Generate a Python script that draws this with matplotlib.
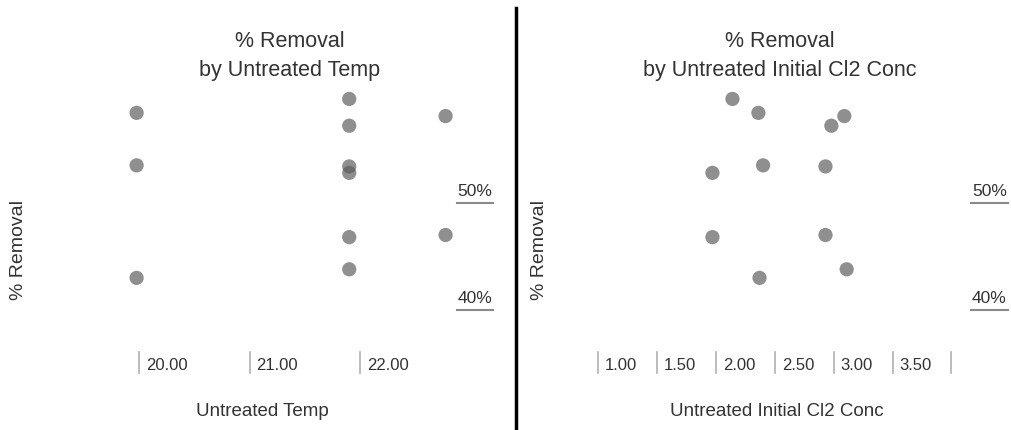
import matplotlib.pyplot as plt
import matplotlib.transforms as mtransforms

plt.rcParams['font.family'] = ['Liberation Sans', 'DejaVu Sans']

# one row per sample
temp = [21.90, 19.98, 22.77, 21.90, 19.98, 21.90, 21.90, 21.90, 22.77, 21.90, 19.98]
cl2 = [2.14, 2.36, 3.09, 2.98, 2.40, 2.93, 1.97, 1.97, 2.93, 3.11, 2.37]
removal = [59.7, 58.4, 58.1, 57.2, 53.5, 53.4, 52.8, 46.8, 47.0, 43.8, 43.0]

temp_ticks = [20.0, 21.0, 22.0]
cl2_ticks = [1.0, 1.5, 2.0, 2.5, 3.0, 3.5, 4.0]
pct_ticks = [40, 50]

W, H = 1011, 430
fig = plt.figure(figsize=(W / 100, H / 100), dpi=100)

def px_box(x0, y0, x1, y1):
    return [x0 / W, 1 - y1 / H, (x1 - x0) / W, (y1 - y0) / H]

def fx(x):
    return x / W

def fy(y):
    return 1 - y / H

dot_color = '#585858'
text_dark = '#333333'
tick_gray = '#b0b0b0'


def panel(box, xs, ys, xlim, xticks, title, xlabel, xlabel_x, title_x,
          ylabel_x, lab_x0, lab_x1, hide_last=False):
    ax = fig.add_axes(px_box(*box))
    ax.scatter(xs, ys, s=105, color=dot_color, alpha=0.67, edgecolors='none')
    ax.set_xlim(*xlim)
    ax.set_ylim(37.2, 61.0)
    ax.set_xticks([])
    ax.set_yticks([])
    for s in ax.spines.values():
        s.set_visible(False)

    # x ticks: short bars below the plot, label to the right of each bar
    bt = mtransforms.blended_transform_factory(ax.transData, fig.transFigure)
    for i, t in enumerate(xticks):
        ax.plot([t, t], [fy(352), fy(373)], transform=bt, color=tick_gray,
                lw=1.2, clip_on=False)
        if hide_last and i == len(xticks) - 1:
            continue
        ax.annotate(f'{t:.2f}', xy=(t, fy(366)), xycoords=bt,
                    xytext=(5, 0), textcoords='offset points',
                    ha='left', va='center', fontsize=12, color=text_dark)

    # y ticks: label on the right with an underline at the value
    yt = mtransforms.blended_transform_factory(fig.transFigure, ax.transData)
    for v in pct_ticks:
        ax.plot([fx(lab_x0), fx(lab_x1)], [v, v], transform=yt,
                color='#8a8a8a', lw=1.5, clip_on=False)
        ax.annotate(f'{v}%', xy=((fx(lab_x0) + fx(lab_x1)) / 2, v),
                    xycoords=yt, xytext=(0, 3), textcoords='offset points',
                    ha='center', va='bottom', fontsize=12.5, color=text_dark)

    fig.text(fx(title_x), fy(56), title, ha='center', va='center',
             fontsize=15.5, color=text_dark, linespacing=1.55)
    fig.text(fx(xlabel_x), fy(411), xlabel, ha='center', va='center',
             fontsize=13.5, color=text_dark)
    fig.text(fx(ylabel_x), fy(250), '% Removal', ha='center', va='center',
             rotation=90, fontsize=14, color=text_dark)
    return ax


panel((120, 85, 455, 340), temp, removal, (19.83, 22.855), temp_ticks,
      '% Removal\nby Untreated Temp', 'Untreated Temp', 262, 290, 19, 457, 493)
panel((590, 85, 955, 340), cl2, removal, (0.93, 4.03), cl2_ticks,
      '% Removal\nby Untreated Initial Cl2 Conc', 'Untreated Initial Cl2 Conc',
      777, 780, 539, 971, 1008, hide_last=True)

# divider between the two sheets
fig.add_artist(plt.Line2D([fx(516), fx(516)], [0, fy(8)], color='black', lw=2.5))

fig.savefig('out.png', dpi=100, facecolor='white')
